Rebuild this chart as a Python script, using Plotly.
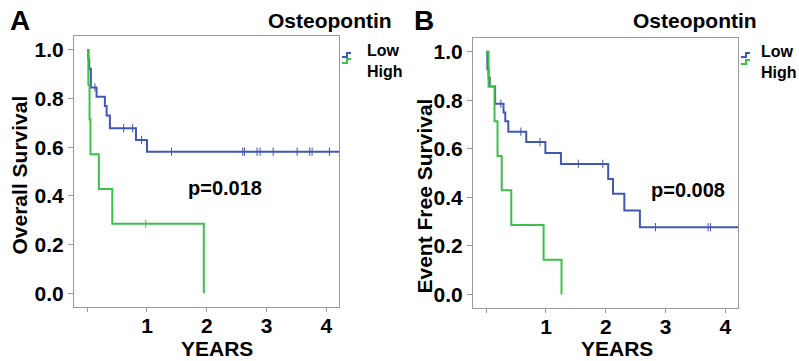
import plotly.graph_objects as go

# ---------------- data ----------------
# Panel A: Overall survival (Kaplan-Meier steps)
a_low_t = [0, 0.02, 0.034, 0.062, 0.157, 0.296, 0.325, 0.38, 0.816, 1.0, 4.3]
a_low_s = [1.0, 0.962, 0.923, 0.846, 0.808, 0.769, 0.731, 0.678, 0.630, 0.582, 0.582]
a_low_cens_t = [0.13, 0.61, 0.76, 0.91, 1.41, 2.60, 2.63, 2.84, 2.89, 3.11, 3.51, 3.72, 3.76, 4.05]
a_low_cens_s = [0.846, 0.678, 0.678, 0.630, 0.582, 0.582, 0.582, 0.582, 0.582, 0.582, 0.582, 0.582, 0.582, 0.582]

a_high_t = [0, 0.02, 0.04, 0.055, 0.195, 0.42, 1.95]
a_high_s = [1.0, 0.857, 0.714, 0.571, 0.429, 0.286, 0.0]
a_high_cens_t = [0.98]
a_high_cens_s = [0.286]

# Panel B: Event free survival
b_low_t = [0, 0.02, 0.04, 0.06, 0.15, 0.29, 0.32, 0.37, 0.67, 0.99, 1.25, 2.04, 2.12, 2.31, 2.57, 4.3]
b_low_s = [1.0, 0.929, 0.893, 0.857, 0.786, 0.750, 0.714, 0.671, 0.628, 0.583, 0.538, 0.476, 0.415, 0.346, 0.277, 0.277]
b_low_cens_t = [0.245, 0.58, 0.90, 1.54, 1.95, 2.83, 3.71, 3.75]
b_low_cens_s = [0.786, 0.671, 0.628, 0.538, 0.538, 0.277, 0.277, 0.277]

b_high_t = [0, 0.04, 0.14, 0.19, 0.26, 0.42, 0.96, 1.26]
b_high_s = [1.0, 0.857, 0.714, 0.571, 0.429, 0.286, 0.143, 0.0]

x_tickvals = [0, 1, 2, 3, 4]
x_ticktext = ["", "1", "2", "3", "4"]
y_tickvals = [0.0, 0.2, 0.4, 0.6, 0.8, 1.0]
y_ticktext = ["0.0", "0.2", "0.4", "0.6", "0.8", "1.0"]

group_names = ["Low", "High"]
p_values = ["p=0.018", "p=0.008"]
panel_labels = ["A", "B"]
y_titles = ["Overall Survival", "Event Free Survival"]

# ---------------- style ----------------
BLUE = "#4257B2"
GREEN = "#3CC04A"
FRAME = "#9A9A9A"
FONT = "Liberation Sans, Arial, sans-serif"
W, H = 799, 361

def px(x):
    return x / W

def py(y):
    return 1 - y / H

fig = go.Figure()

def add_panel(xa, ya, lt, ls, lct, lcs, ht, hs, hct=None, hcs=None):
    fig.add_trace(go.Scatter(x=lt, y=ls, mode="lines", line=dict(color=BLUE, width=2, shape="hv"),
                             xaxis=xa, yaxis=ya, name="Low", showlegend=False))
    fig.add_trace(go.Scatter(x=ht, y=hs, mode="lines", line=dict(color=GREEN, width=2, shape="hv"),
                             xaxis=xa, yaxis=ya, name="High", showlegend=False))
    fig.add_trace(go.Scatter(x=lct, y=lcs, mode="markers",
                             marker=dict(symbol="line-ns", size=6, line=dict(color=BLUE, width=1)),
                             xaxis=xa, yaxis=ya, showlegend=False, hoverinfo="skip"))
    if hct:
        fig.add_trace(go.Scatter(x=hct, y=hcs, mode="markers",
                                 marker=dict(symbol="line-ns", size=6, line=dict(color=GREEN, width=1)),
                                 xaxis=xa, yaxis=ya, showlegend=False, hoverinfo="skip"))

add_panel("x", "y", a_low_t, a_low_s, a_low_cens_t, a_low_cens_s, a_high_t, a_high_s, a_high_cens_t, a_high_cens_s)
add_panel("x2", "y2", b_low_t, b_low_s, b_low_cens_t, b_low_cens_s, b_high_t, b_high_s)

tickfont = dict(family=FONT, size=21, color="black", weight="bold")
xcommon = dict(range=[-0.22, 4.21], tickvals=x_tickvals, ticktext=x_ticktext, ticks="outside", ticklen=4,
               tickcolor=FRAME, showline=True, linecolor=FRAME, linewidth=1, mirror=True,
               showgrid=False, zeroline=False, tickfont=tickfont, ticklabelstandoff=-4)
ycommon = dict(range=[-0.056, 1.057], tickvals=y_tickvals, ticktext=y_ticktext, ticks="outside", ticklen=5,
               tickcolor=FRAME, showline=True, linecolor=FRAME, linewidth=1, mirror=True,
               showgrid=False, zeroline=False, tickfont=tickfont)

fig.update_layout(
    width=W, height=H, margin=dict(l=0, r=0, t=0, b=0),
    paper_bgcolor="white", plot_bgcolor="white", showlegend=False,
    xaxis=dict(domain=[px(74), px(339)], anchor="y", **xcommon),
    yaxis=dict(domain=[py(307), py(36)], anchor="x", **ycommon),
    xaxis2=dict(domain=[px(473), px(738)], anchor="y2", **xcommon),
    yaxis2=dict(domain=[py(308), py(38)], anchor="x2", **ycommon),
)

ann = []
def text(x, y, s, size, xanchor="center", angle=0, xref="paper", yref="paper", align="center"):
    ann.append(dict(x=x, y=y, xref=xref, yref=yref, text=s, showarrow=False, xanchor=xanchor,
                    yanchor="middle", textangle=angle, align=align, borderpad=0,
                    font=dict(family=FONT, size=size, color="black", weight="bold")))

# panel labels and titles
text(px(20), py(20), panel_labels[0], 28)
text(px(424), py(20), panel_labels[1], 28)
text(px(330), py(20), "Osteopontin", 21)
text(px(695), py(20), "Osteopontin", 21)
# axis titles
text(px(18.5), py(175), y_titles[0], 21, angle=-90)
text(px(423.5), py(196), y_titles[1], 21, angle=-90)
text(px(216.7), py(348), "YEARS", 21)
text(px(616.7), py(348), "YEARS", 21)
# p values
text(2.31, 0.433, p_values[0], 20, xref="x", yref="y")
text(3.375, 0.432, p_values[1], 20, xref="x2", yref="y2")
# legend text
legend_text = "<br>".join(group_names)
text(px(366), py(61), legend_text, 16, xanchor="left", align="left")
text(px(760), py(61.5), legend_text, 16, xanchor="left", align="left")
fig.update_layout(annotations=ann)

# legend step icons
def step_icon(x0, y0, color):
    path = (f"M {px(x0)} {py(y0)} L {px(x0 + 5)} {py(y0)} L {px(x0 + 5)} {py(y0 - 4)} "
            f"L {px(x0 + 9)} {py(y0 - 4)}")
    return dict(type="path", xref="paper", yref="paper", path=path,
                line=dict(color=color, width=2))

fig.update_layout(shapes=[
    step_icon(342, 57, BLUE),
    step_icon(342, 63, GREEN),
    step_icon(741, 57, BLUE),
    step_icon(741, 64, GREEN),
])

fig.write_html("out.html", config={"displayModeBar": False},
               post_script="document.body.style.margin='0';document.body.style.overflow='hidden';")
